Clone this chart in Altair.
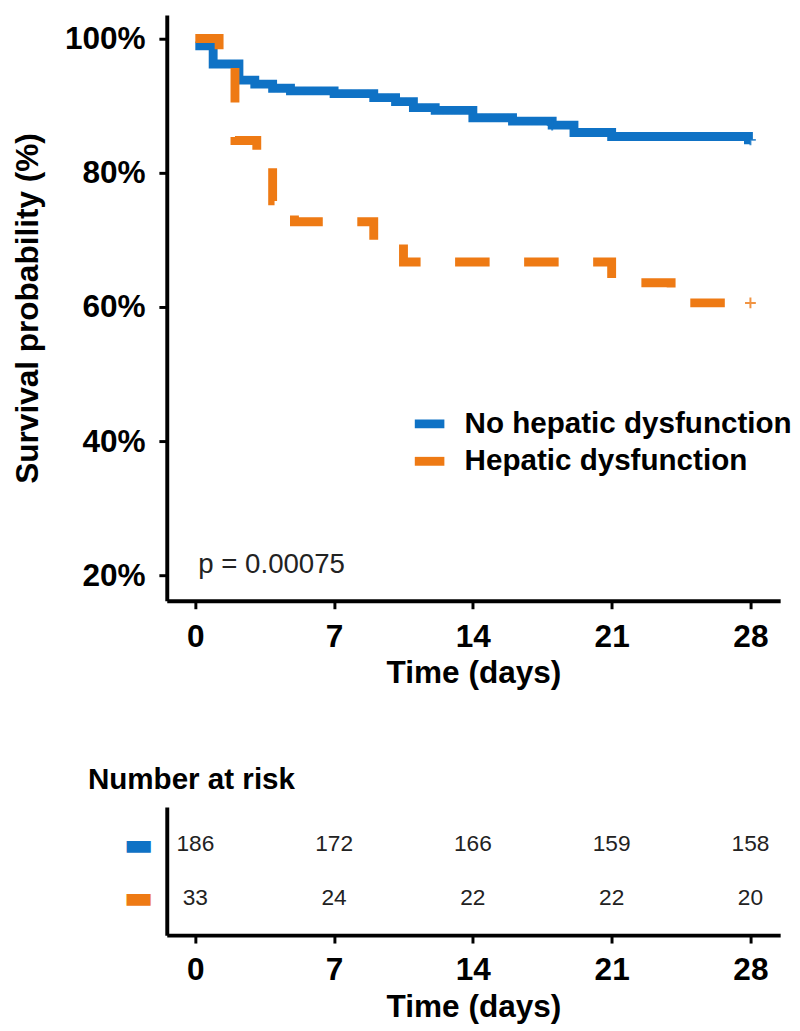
import altair as alt
import pandas as pd

# ---------------- data ----------------
groups = ["No hepatic dysfunction", "Hepatic dysfunction"]
colors = ["#0F72C5", "#EE7A14"]

blue_time = [0, 0.9, 2.2, 3.0, 3.9, 4.8, 7.0, 9.0, 10.1, 11.0, 12.1, 14.0, 16.0, 18.0, 19.1, 21.0, 27.9, 28.0]
blue_surv = [98.9, 96.2, 93.8, 93.2, 92.6, 92.2, 91.8, 91.2, 90.6, 89.7, 89.3, 88.2, 87.7, 87.1, 86.0, 85.4, 84.9, 84.9]
orange_time = [0, 1.2, 2.0, 3.1, 3.9, 5.0, 9.0, 10.5, 21.0, 24.0, 28.0]
orange_surv = [100, 97.0, 84.8, 81.8, 75.8, 72.7, 69.7, 66.7, 63.6, 60.6, 60.6]

censor_time = [18.0, 28.0, 28.0]
censor_surv = [87.1, 84.9, 60.6]
censor_group = [groups[0], groups[0], groups[1]]

risk_times = [0, 7, 14, 21, 28]
risk_blue = [186, 172, 166, 159, 158]
risk_orange = [33, 24, 22, 22, 20]

x_ticks = [0, 7, 14, 21, 28]
y_ticks = [20, 40, 60, 80, 100]
p_label = ["p = 0.00075"]
p_time = [0.15]
p_surv = [21.6]

# ---------------- frames ----------------
curve_df = pd.DataFrame({
    "time": blue_time + orange_time,
    "surv": blue_surv + orange_surv,
    "group": [groups[0]] * len(blue_time) + [groups[1]] * len(orange_time),
})
censor_df = pd.DataFrame({"time": censor_time, "surv": censor_surv, "group": censor_group})
p_df = pd.DataFrame({"time": p_time, "surv": p_surv, "label": p_label})
risk_df = pd.DataFrame({
    "time": risk_times * 2,
    "n": risk_blue + risk_orange,
    "group": [groups[0]] * len(risk_times) + [groups[1]] * len(risk_times),
})

FONT = "Liberation Sans"
xs = alt.Scale(domain=[-1.44, 29.5], nice=False, zero=False)
ys = alt.Scale(domain=[16.2, 103.5], nice=False, zero=False)
color_scale = alt.Scale(domain=groups, range=colors)
dash_scale = alt.Scale(domain=groups, range=[[1, 0], [35, 35]])

axis_common = dict(
    domainColor="black", domainWidth=4, tickColor="black", tickWidth=3, tickSize=8,
    labelFont=FONT, labelFontWeight="bold", labelFontSize=32, labelColor="black",
    titleFont=FONT, titleFontWeight="bold", titleFontSize=32, titleColor="black",
    grid=False,
)

x_axis = alt.Axis(values=x_ticks, title="Time (days)", labelPadding=13, titlePadding=6, **axis_common)
y_axis = alt.Axis(values=y_ticks, title="Survival probability (%)", labelExpr="datum.value + '%'",
                  labelPadding=14, titlePadding=20, **axis_common)

lines = alt.Chart(curve_df).mark_line(interpolate="step-after", strokeWidth=9, strokeCap="butt").encode(
    x=alt.X("time:Q", scale=xs, axis=x_axis),
    y=alt.Y("surv:Q", scale=ys, axis=y_axis),
    color=alt.Color("group:N", scale=color_scale, sort=groups, legend=alt.Legend(
        title=None, orient="none", legendX=247, legendY=395, symbolType="stroke",
        symbolStrokeWidth=9, symbolSize=900, labelFont=FONT, labelFontWeight="bold",
        labelFontSize=30, labelColor="black", labelOffset=16, rowPadding=0, padding=0,
        labelLimit=0,
    )),
    strokeDash=alt.StrokeDash("group:N", scale=dash_scale, legend=None),
)

censors = alt.Chart(censor_df).mark_point(
    shape="M-1,0L1,0M0,-1L0,1", size=120, strokeWidth=2, filled=False, opacity=0.8
).encode(
    x=alt.X("time:Q", scale=xs),
    y=alt.Y("surv:Q", scale=ys),
    color=alt.Color("group:N", scale=color_scale, legend=None),
)

ptext = alt.Chart(p_df).mark_text(align="left", baseline="middle", font=FONT, fontSize=28, color="#222222").encode(
    x=alt.X("time:Q", scale=xs),
    y=alt.Y("surv:Q", scale=ys),
    text="label:N",
)

top = alt.layer(lines, censors, ptext).properties(width=622, height=594)

label_color_expr = f"datum.value === '{groups[0]}' ? '{colors[0]}' : '{colors[1]}'"

table = alt.Chart(risk_df).mark_text(font=FONT, fontSize=23, color="#222222").encode(
    x=alt.X("time:Q", scale=xs, axis=alt.Axis(values=x_ticks, title="Time (days)", labelPadding=12,
                                               titlePadding=6, **axis_common)),
    y=alt.Y("group:N", scale=alt.Scale(domain=groups, type="point", padding=0.7),
            axis=alt.Axis(title=None, ticks=False, labelExpr="'▬'", labelPadding=14,
                          labelColor=alt.ExprRef(expr=label_color_expr),
                          labelFont="DejaVu Sans", labelFontSize=32,
                          domainColor="black", domainWidth=4, grid=False)),
    text="n:Q",
).properties(
    width=622, height=130,
    title=alt.TitleParams("Number at risk", anchor="start", frame="group", dx=-80, font=FONT,
                          fontSize=30, fontWeight="bold", color="black", offset=12),
)

chart = alt.vconcat(top, table, spacing=78).properties(
    padding={"left": 4, "top": 0, "right": 0, "bottom": 0}, background="white"
).configure_view(strokeWidth=0, stroke="transparent")

chart.save("out.html", embed_options={"renderer": "svg", "actions": False})
